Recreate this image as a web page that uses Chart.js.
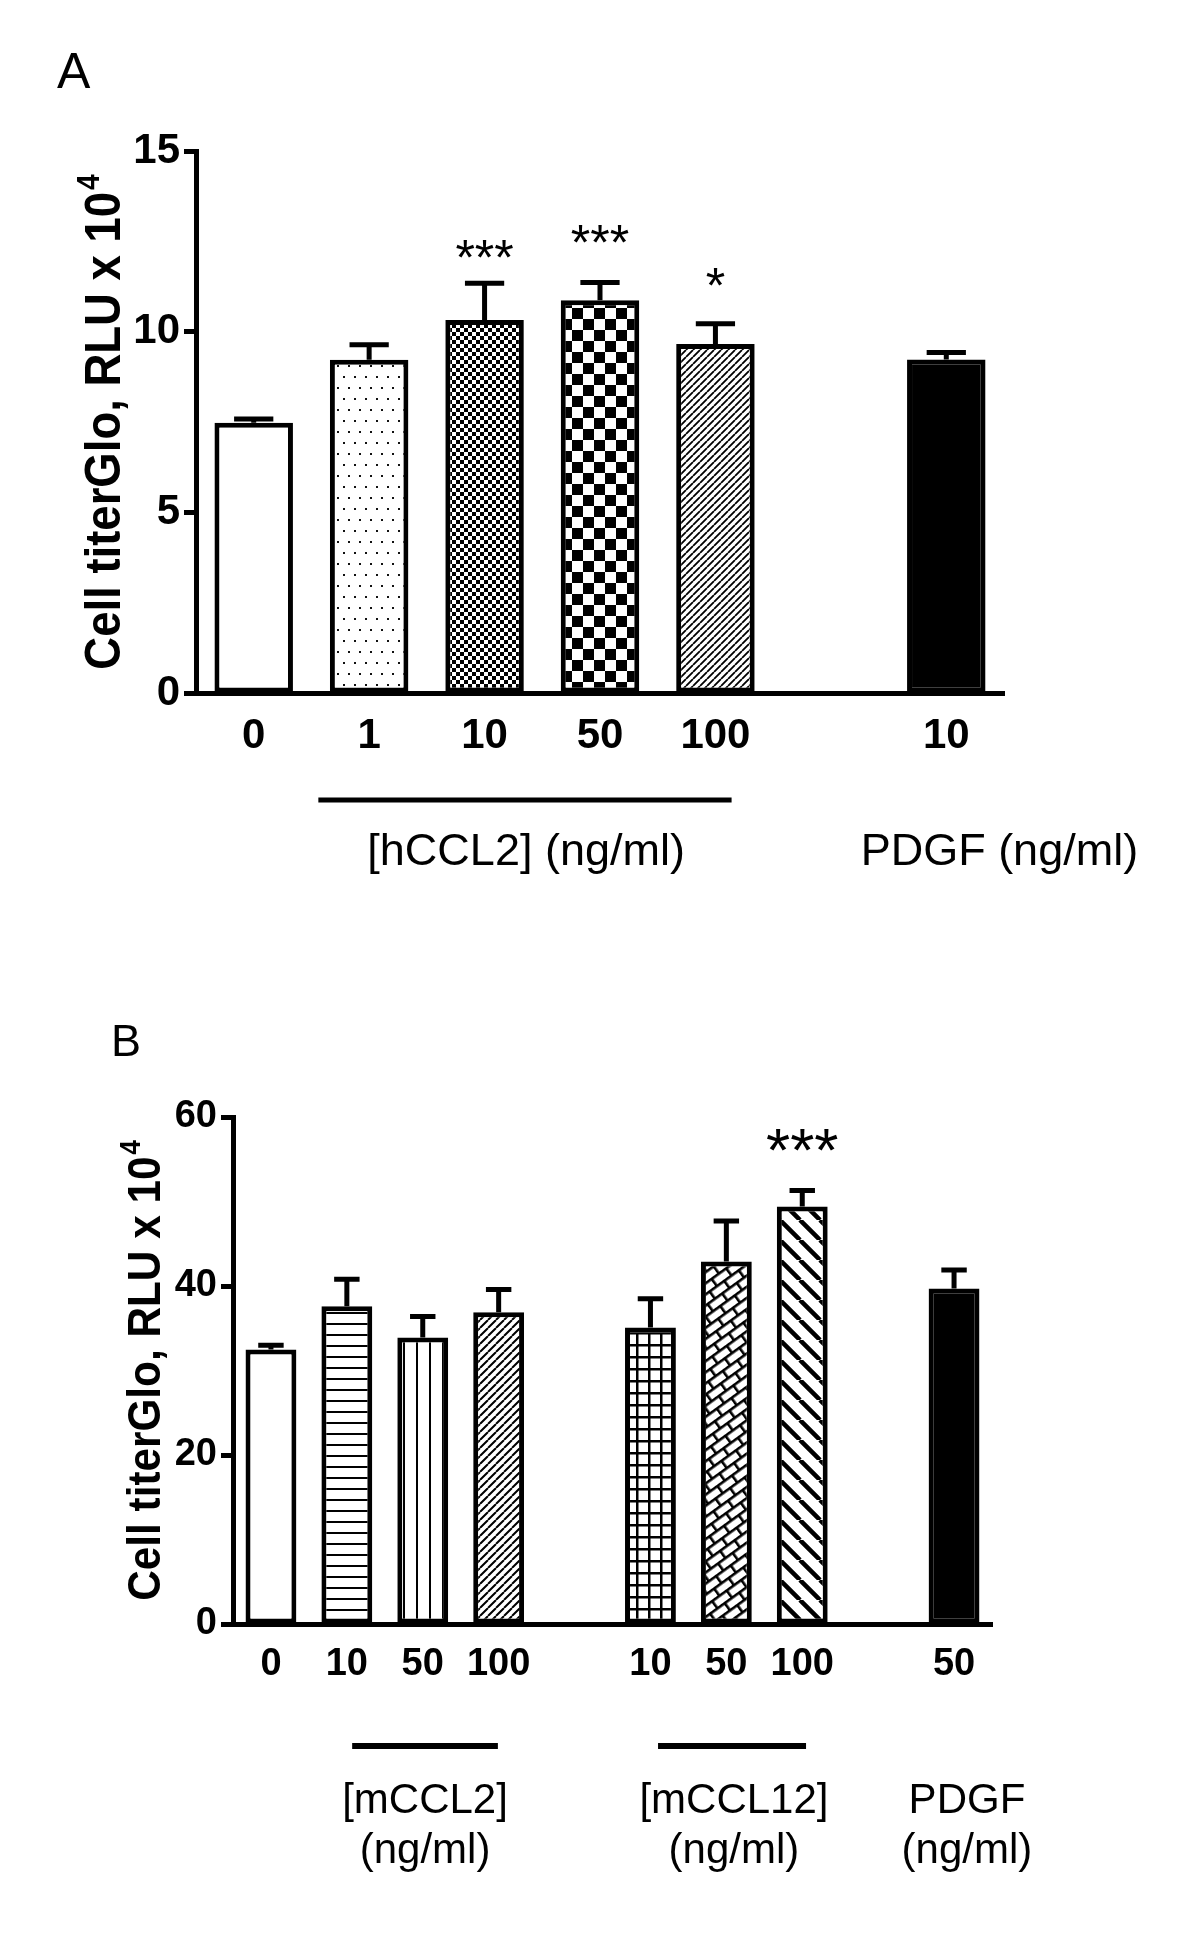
<!DOCTYPE html>
<html>
<head>
<meta charset="utf-8">
<script src="https://cdn.jsdelivr.net/npm/chart.js@4.4.0/dist/chart.umd.min.js"></script>
<style>
  body { margin: 0; background: #fff; }
  #wrap { position: relative; width: 1200px; height: 1944px; background: #fff; }
  canvas { position: absolute; left: 0; }
</style>
</head>
<body>
<div id="wrap">
  <canvas id="chartA" width="1200" height="960" style="top:0px"></canvas>
  <canvas id="chartB" width="1200" height="984" style="top:960px"></canvas>
</div>
<script>
// ---- panel A : hCCL2 ----
const labelsA = ['0', '1', '10', '50', '100', '', '10'];
const valuesA = [7.48, 9.22, 10.32, 10.87, 9.66, null, 9.23];
const errorsA = [0.10, 0.42, 1.02, 0.49, 0.56, null, 0.19];
const starsA = ['', '', '***', '***', '*', '', ''];
const starLevelsA = [null, null, 12.37, 12.79, 11.6, null, null];
const fillsA = ['white', 'dots', 'checkFine', 'checkCoarse', 'hatchFine', null, 'black'];

// ---- panel B : mCCL2 / mCCL12 ----
const labelsB = ['0', '10', '50', '100', '', '10', '50', '100', '', '50'];
const valuesB = [32.5, 37.6, 33.9, 36.9, null, 35.1, 42.9, 49.4, null, 39.7];
const errorsB = [0.5, 3.2, 2.5, 2.7, null, 3.4, 4.8, 1.9, null, 2.2];
const starsB = ['', '', '', '', '', '', '', '***', '', ''];
const starLevelsB = [null, null, null, null, null, null, null, 57.9, null, null];
const fillsB = ['white', 'hLines', 'vLines', 'hatchB', null, 'grid', 'brick', 'hatchWide', null, 'black'];

const FONT = "'Liberation Sans', Arial, sans-serif";

// bar fills as canvas patterns
function makeFill(kind) {
  if (kind === 'white' || kind == null) return '#ffffff';
  if (kind === 'black') return '#000000';
  const c = document.createElement('canvas');
  const g = c.getContext('2d');
  const tile = (w, h) => {
    c.width = w; c.height = h || w;
    g.fillStyle = '#fff'; g.fillRect(0, 0, c.width, c.height);
    g.fillStyle = '#000'; g.strokeStyle = '#000';
  };
  const diag = (s, w, dir) => {
    g.lineWidth = w;
    g.beginPath();
    for (let k = -1; k <= 1; k++) {
      if (dir > 0) { g.moveTo(k * s, s); g.lineTo(k * s + s, 0); }
      else { g.moveTo(k * s, 0); g.lineTo(k * s + s, s); }
    }
    g.stroke();
  };
  let angle = 0;
  switch (kind) {
    case 'dots':
      tile(22, 22);
      g.fillStyle = '#111';
      g.fillRect(2, 2, 2, 2); g.fillRect(13, 2, 2, 2);
      g.fillRect(7, 13, 2, 2); g.fillRect(18, 13, 2, 2);
      break;
    case 'checkFine':
      tile(8); g.fillRect(0, 0, 4, 4); g.fillRect(4, 4, 4, 4);
      break;
    case 'checkCoarse':
      tile(22); g.fillRect(0, 0, 11, 11); g.fillRect(11, 11, 11, 11);
      break;
    case 'hatchFine':
      tile(7); diag(7, 1.8, 1);
      break;
    case 'hLines':
      tile(11); g.fillRect(0, 0, 11, 2);
      break;
    case 'vLines':
      tile(13); g.fillRect(0, 0, 2, 13);
      break;
    case 'hatchB':
      tile(8); diag(8, 2, 1);
      break;
    case 'grid':
      tile(12); g.fillRect(0, 0, 12, 2.5); g.fillRect(0, 0, 2.5, 12);
      break;
    case 'brick':
      // running bond, tilted afterwards
      tile(18, 18);
      g.fillRect(0, 0, 18, 2.6); g.fillRect(0, 9, 18, 2.6);
      g.fillRect(0, 0, 2.6, 9); g.fillRect(9, 9, 2.6, 9);
      angle = -36;
      break;
    case 'hatchWide':
      tile(20); diag(20, 4.5, -1);
      break;
  }
  const pat = g.createPattern(c, 'repeat');
  if (angle) pat.setTransform(new DOMMatrix().rotate(angle));
  return pat;
}

// error bars (upward only, with cap) and significance stars
const errorBars = {
  id: 'errorBars',
  afterDatasetsDraw(chart, args, o) {
    const { ctx, scales: { y } } = chart;
    const meta = chart.getDatasetMeta(0);
    const vals = chart.data.datasets[0].data;
    ctx.save();
    ctx.strokeStyle = '#000';
    ctx.lineWidth = o.width;
    meta.data.forEach((bar, i) => {
      if (vals[i] == null) return;
      const base = y.getPixelForValue(vals[i]);
      const top = y.getPixelForValue(vals[i] + o.errors[i]);
      const half = bar.width * o.cap / 2;
      ctx.beginPath();
      ctx.moveTo(bar.x, base); ctx.lineTo(bar.x, top);
      ctx.moveTo(bar.x - half, top); ctx.lineTo(bar.x + half, top);
      ctx.stroke();
    });
    ctx.fillStyle = '#000';
    ctx.font = o.starSize + 'px ' + FONT;
    ctx.textAlign = 'center';
    ctx.textBaseline = 'alphabetic';
    o.stars.forEach((s, i) => {
      if (!s) return;
      const px = meta.data[i].x;
      const py = y.getPixelForValue(o.starLevels[i]);
      ctx.fillText(s, px, py + 0.58 * o.starSize);
    });
    ctx.restore();
  }
};

// panel letter, y title with superscript, group bars and group labels
const annotate = {
  id: 'annotate',
  afterDraw(chart, args, o) {
    const { ctx, chartArea, scales: { x } } = chart;
    ctx.save();
    ctx.fillStyle = '#000';
    ctx.strokeStyle = '#000';

    ctx.font = o.letterSize + 'px ' + FONT;
    ctx.textAlign = 'left';
    ctx.textBaseline = 'alphabetic';
    ctx.fillText(o.letter, o.letterX, o.letterY);

    // rotated y title
    ctx.save();
    ctx.translate(o.titleX, (chartArea.top + chartArea.bottom) / 2);
    ctx.rotate(-Math.PI / 2);
    ctx.scale(o.titleSquash, 1);
    const F = o.titleSize;
    ctx.font = 'bold ' + F + 'px ' + FONT;
    const main = 'Cell titerGlo, RLU x 10';
    const wMain = ctx.measureText(main).width;
    ctx.font = 'bold ' + Math.round(F * 0.62) + 'px ' + FONT;
    const wSup = ctx.measureText('4').width;
    const start = -(wMain + wSup + 2) / 2;
    ctx.font = 'bold ' + F + 'px ' + FONT;
    ctx.fillText(main, start, 0.36 * F);
    ctx.font = 'bold ' + Math.round(F * 0.62) + 'px ' + FONT;
    ctx.fillText('4', start + wMain + 2, 0.36 * F - 0.42 * F);
    ctx.restore();

    // group underlines and labels
    ctx.lineWidth = o.groupLineWidth;
    ctx.textAlign = 'center';
    ctx.textBaseline = 'middle';
    ctx.font = o.groupSize + 'px ' + FONT;
    o.groups.forEach(g => {
      if (g.from != null) {
        ctx.beginPath();
        ctx.moveTo(x.getPixelForValue(g.from), o.groupLineY);
        ctx.lineTo(x.getPixelForValue(g.to), o.groupLineY);
        ctx.stroke();
      }
      g.text.forEach((t, k) => {
        ctx.fillText(t, x.getPixelForValue(g.at), o.groupTextY[k]);
      });
    });
    ctx.restore();
  }
};

function buildChart(id, p) {
  return new Chart(document.getElementById(id), {
    type: 'bar',
    data: {
      labels: p.labels,
      datasets: [{
        data: p.values,
        backgroundColor: p.fills.map(makeFill),
        borderColor: '#000',
        borderWidth: 5,
        borderSkipped: false,
        barPercentage: p.barPct,
        categoryPercentage: 1
      }]
    },
    options: {
      responsive: false,
      animation: false,
      events: [],
      layout: { padding: p.padding },
      plugins: {
        legend: { display: false },
        tooltip: { enabled: false },
        errorBars: {
          errors: p.errors, width: 5, cap: 0.5,
          stars: p.stars, starLevels: p.starLevels, starSize: p.starSize
        },
        annotate: p.annotate
      },
      scales: {
        x: {
          offset: true,
          grid: { display: false, drawTicks: false },
          border: { display: true, color: '#000', width: 5 },
          ticks: {
            color: '#000', autoSkip: false, maxRotation: 0, padding: p.xPad,
            font: { family: FONT, size: p.tickSize, weight: 'bold' }
          },
          afterFit(s) { s.height = 80; }
        },
        y: {
          min: 0, max: p.yMax,
          ticks: {
            stepSize: p.yStep, color: '#000', padding: 4,
            font: { family: FONT, size: p.tickSize, weight: 'bold' }
          },
          grid: {
            display: true, drawOnChartArea: false, drawTicks: true,
            tickLength: 12, tickWidth: 5, tickColor: '#000'
          },
          border: { display: true, color: '#000', width: 5 },
          afterFit(s) { s.width = p.yWidth; }
        }
      }
    },
    plugins: [errorBars, annotate]
  });
}

buildChart('chartA', {
  labels: labelsA, values: valuesA, errors: errorsA, fills: fillsA,
  stars: starsA, starLevels: starLevelsA, starSize: 50,
  barPct: 0.68, yMax: 15, yStep: 5, tickSize: 42, xPad: 18, yWidth: 196,
  padding: { left: 0, right: 196, top: 151, bottom: 187 },
  annotate: {
    letter: 'A', letterSize: 50, letterX: 57, letterY: 88,
    titleX: 102, titleSize: 50, titleSquash: 0.91,
    groupLineWidth: 5, groupLineY: 800, groupSize: 45, groupTextY: [853],
    groups: [
      { from: 0.56, to: 4.14, at: 2.36, text: ['[hCCL2] (ng/ml)'] },
      { at: 6.46, text: ['PDGF (ng/ml)'] }
    ]
  }
});

buildChart('chartB', {
  labels: labelsB, values: valuesB, errors: errorsB, fills: fillsB,
  stars: starsB, starLevels: starLevelsB, starSize: 62,
  barPct: 0.67, yMax: 60, yStep: 20, tickSize: 38, xPad: 18, yWidth: 233,
  padding: { left: 0, right: 208, top: 157, bottom: 240 },
  annotate: {
    letter: 'B', letterSize: 45, letterX: 111, letterY: 96,
    titleX: 143, titleSize: 47, titleSquash: 0.9,
    groupLineWidth: 6, groupLineY: 786, groupSize: 42, groupTextY: [841, 891],
    groups: [
      { from: 1.07, to: 2.99, at: 2.03, text: ['[mCCL2]', '(ng/ml)'] },
      { from: 5.1, to: 7.05, at: 6.1, text: ['[mCCL12]', '(ng/ml)'] },
      { at: 9.17, text: ['PDGF', '(ng/ml)'] }
    ]
  }
});
</script>
</body>
</html>
